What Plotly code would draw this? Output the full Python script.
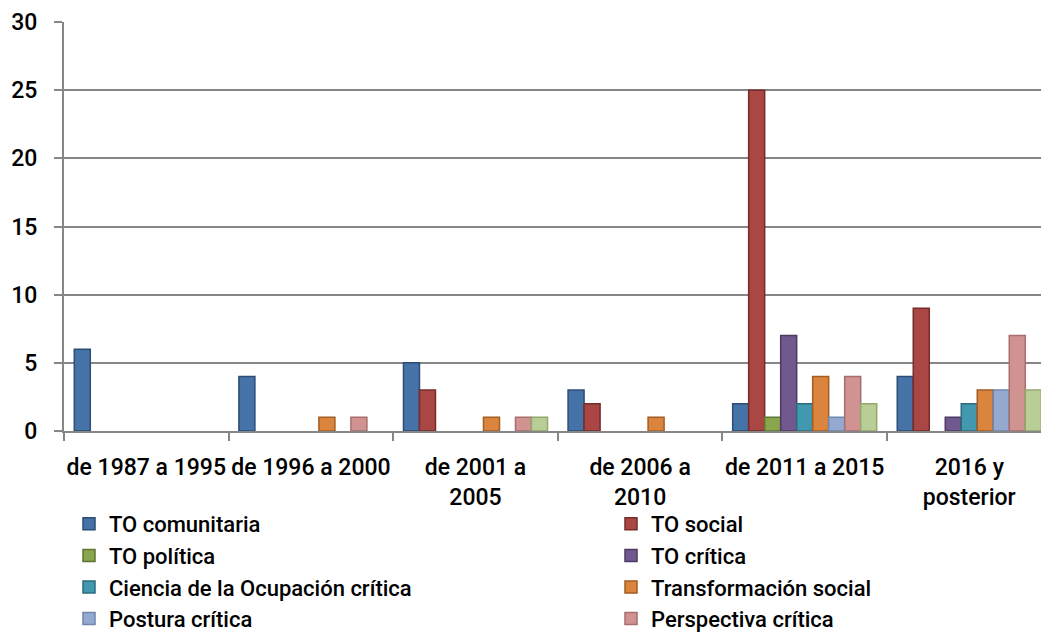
import plotly.graph_objects as go

categories = ["de 1987 a 1995", "de 1996 a 2000", "de 2001 a<br>2005",
              "de 2006 a<br>2010", "de 2011 a 2015", "2016 y<br>posterior"]

series_names = ["TO comunitaria", "TO social", "TO política", "TO crítica",
                "Ciencia de la Ocupación crítica", "Transformación social",
                "Postura crítica", "Perspectiva crítica", "Otra"]

to_comunitaria = [6, 4, 5, 3, 2, 4]
to_social = [0, 0, 3, 2, 25, 9]
to_politica = [0, 0, 0, 0, 1, 0]
to_critica = [0, 0, 0, 0, 7, 1]
ciencia_ocupacion = [0, 0, 0, 0, 2, 2]
transformacion = [0, 1, 1, 1, 4, 3]
postura = [0, 0, 0, 0, 1, 3]
perspectiva = [0, 1, 1, 0, 4, 7]
otra = [0, 0, 1, 0, 2, 3]

values = [to_comunitaria, to_social, to_politica, to_critica, ciencia_ocupacion,
          transformacion, postura, perspectiva, otra]

fills = ["#4572A7", "#AA4643", "#89A54E", "#71588F", "#4198AF",
         "#DB843D", "#93A9CF", "#D19392", "#B9CD96"]
edges = ["#2C4D75", "#772C2A", "#5F7530", "#4D3B62", "#2C6B7E",
         "#A35D22", "#6F86AE", "#A86E6D", "#93A86D"]

FONT = "Roboto, Noto Sans, sans-serif"

# page has an 8px body margin; figure coordinates are offset accordingly
W, H = 1049, 680
ML, MT = 56, 14
PLOT_BOTTOM = 423
MB = H - PLOT_BOTTOM
PW = W - ML
PH = PLOT_BOTTOM - MT

fig = go.Figure()
for i, (name, vals) in enumerate(zip(series_names, values)):
    fig.add_trace(go.Bar(
        x=categories, y=[v if v else None for v in vals], name=name,
        marker=dict(color=fills[i], line=dict(color=edges[i], width=1.5)),
        showlegend=(i < 8),
        legend="legend" if i % 2 == 0 else "legend2",
    ))

legend_top = (PLOT_BOTTOM - 495) / PH
legend_common = dict(
    orientation="v", xref="paper", yref="paper",
    xanchor="left", yanchor="top", bgcolor="rgba(0,0,0,0)",
    font=dict(family=FONT, size=22, color="#000000", weight=500),
    tracegroupgap=0, itemclick=False, itemdoubleclick=False,
    traceorder="normal",
)

fig.update_layout(
    width=W, height=H,
    margin=dict(l=ML, r=0, t=MT, b=MB),
    paper_bgcolor="white", plot_bgcolor="white",
    barmode="group", bargap=0.125, bargroupgap=0,
    font=dict(family=FONT, size=23, color="#000000"),
    legend=dict(x=(61 - ML) / PW, y=legend_top, **legend_common),
    legend2=dict(x=(603 - ML) / PW, y=legend_top, **legend_common),
)
fig.update_xaxes(
    showline=True, linecolor="#868686", linewidth=2,
    ticks="outside", tickson="boundaries", ticklen=8, tickcolor="#868686", tickwidth=2,
    showgrid=False, tickangle=0, automargin=False,
    tickfont=dict(family=FONT, size=23, color="#000000", weight=500),
    ticklabelstandoff=14,
    range=[-0.5, 5.533],
)
fig.update_yaxes(
    range=[0, 30], dtick=5, showline=True, linecolor="#868686", linewidth=2,
    ticks="outside", ticklen=8, tickcolor="#868686", tickwidth=2,
    showgrid=True, gridcolor="#868686", gridwidth=2, zeroline=False,
    automargin=False,
    tickfont=dict(family=FONT, size=23, color="#000000", weight=500),
    ticklabelstandoff=12,
)

fig.write_html("out.html")
